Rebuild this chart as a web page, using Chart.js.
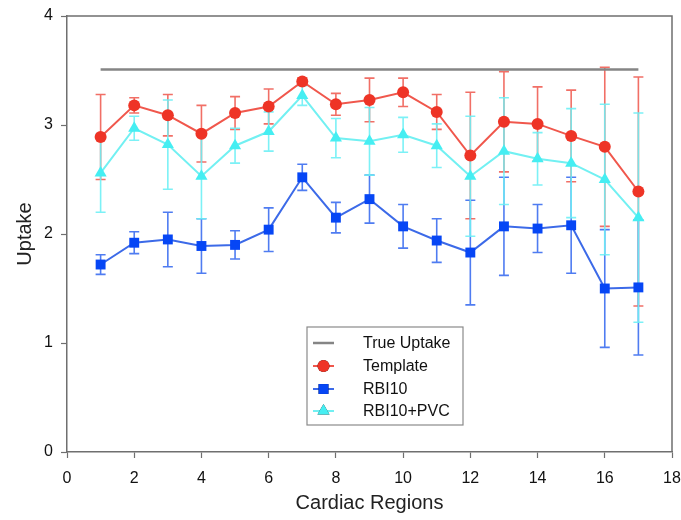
<!DOCTYPE html>
<html>
<head>
<meta charset="utf-8">
<script src="https://cdn.jsdelivr.net/npm/chart.js@4.4.1/dist/chart.umd.min.js"></script>
<style>
  html, body { margin: 0; padding: 0; background: #fff; }
  #wrap { width: 681px; height: 520px; }
</style>
</head>
<body>
<div id="wrap"><canvas id="chart"></canvas></div>
<script>
const regions = [1, 2, 3, 4, 5, 6, 7, 8, 9, 10, 11, 12, 13, 14, 15, 16, 17];
const trueUptake = 3.51;
const template = [2.89, 3.18, 3.09, 2.92, 3.11, 3.17, 3.40, 3.19, 3.23, 3.30, 3.12, 2.72, 3.03, 3.01, 2.90, 2.80, 2.39];
const templateErr = [0.39, 0.07, 0.19, 0.26, 0.15, 0.16, 0.03, 0.10, 0.20, 0.13, 0.16, 0.58, 0.46, 0.34, 0.42, 0.73, 1.05];
const rbi10 = [1.72, 1.92, 1.95, 1.89, 1.90, 2.04, 2.52, 2.15, 2.32, 2.07, 1.94, 1.83, 2.07, 2.05, 2.08, 1.50, 1.51];
const rbi10Err = [0.09, 0.10, 0.25, 0.25, 0.13, 0.20, 0.12, 0.14, 0.22, 0.20, 0.20, 0.48, 0.45, 0.22, 0.44, 0.54, 0.62];
const rbi10Pvc = [2.56, 2.97, 2.82, 2.53, 2.81, 2.94, 3.27, 2.88, 2.85, 2.91, 2.81, 2.53, 2.76, 2.69, 2.65, 2.50, 2.15];
const rbi10PvcErr = [0.36, 0.11, 0.41, 0.39, 0.16, 0.18, 0.09, 0.18, 0.31, 0.16, 0.20, 0.55, 0.49, 0.24, 0.50, 0.69, 0.96];
const xTicks = [0, 2, 4, 6, 8, 10, 12, 14, 16, 18];
const yTicks = [0, 1, 2, 3, 4];

const FONT = "'Liberation Sans', Arial, Helvetica, sans-serif";
const AXIS = "#6f6f6f";

const pts = (vals) => regions.map((r, i) => ({ x: r, y: vals[i] }));

// vertical error bars with caps, drawn under the lines
const errorBars = {
  id: 'errorBars',
  beforeDatasetsDraw(chart) {
    const { ctx, scales: { x, y } } = chart;
    ctx.save();
    chart.data.datasets.forEach((ds) => {
      if (!ds.errors) return;
      ctx.strokeStyle = ds.errorColor;
      ctx.lineWidth = 1.6;
      ds.data.forEach((p, i) => {
        const e = ds.errors[i];
        const px = x.getPixelForValue(p.x);
        const top = y.getPixelForValue(p.y + e);
        const bot = y.getPixelForValue(p.y - e);
        ctx.beginPath();
        ctx.moveTo(px, top); ctx.lineTo(px, bot);
        ctx.moveTo(px - 5, top); ctx.lineTo(px + 5, top);
        ctx.moveTo(px - 5, bot); ctx.lineTo(px + 5, bot);
        ctx.stroke();
      });
    });
    ctx.restore();
  }
};

// closed frame + legend box inside the plot
const frameAndLegend = {
  id: 'frameAndLegend',
  afterDraw(chart) {
    const { ctx, chartArea: a } = chart;
    ctx.save();
    ctx.strokeStyle = AXIS;
    ctx.lineWidth = 1.5;
    ctx.beginPath();
    ctx.moveTo(a.left, a.top); ctx.lineTo(a.right, a.top); ctx.lineTo(a.right, a.bottom);
    ctx.stroke();

    // legend
    const lx = 307, ly = 327, lw = 156, lh = 98;
    ctx.fillStyle = '#fff';
    ctx.fillRect(lx, ly, lw, lh);
    ctx.strokeStyle = '#8a8a8a';
    ctx.lineWidth = 1.2;
    ctx.strokeRect(lx, ly, lw, lh);
    const rows = [343, 366, 389, 411];
    ctx.font = "16px " + FONT;
    ctx.textBaseline = 'middle';
    chart.data.datasets.forEach((ds, i) => {
      const yy = rows[i];
      ctx.strokeStyle = ds.borderColor;
      ctx.lineWidth = ds.borderWidth;
      ctx.beginPath(); ctx.moveTo(313, yy); ctx.lineTo(334, yy); ctx.stroke();
      if (ds.pointRadius > 0) {
        Chart.helpers.drawPoint(ctx, {
          pointStyle: ds.pointStyle, radius: ds.pointRadius, rotation: 0, borderWidth: 0
        }, 323.5, yy);
        ctx.fillStyle = ds.pointBackgroundColor;
        ctx.fill();
      }
      ctx.fillStyle = '#111';
      ctx.fillText(ds.label, 363, yy + 1);
    });
    ctx.restore();
  }
};

new Chart(document.getElementById('chart'), {
  type: 'line',
  data: {
    datasets: [
      {
        label: 'True Uptake',
        data: [{ x: regions[0], y: trueUptake }, { x: regions[regions.length - 1], y: trueUptake }],
        borderColor: '#858585',
        borderWidth: 2.5,
        pointRadius: 0
      },
      {
        label: 'Template',
        data: pts(template),
        errors: templateErr,
        errorColor: 'rgba(240,95,85,0.9)',
        borderColor: '#f0574c',
        borderWidth: 2,
        pointStyle: 'circle',
        pointRadius: 6,
        pointBackgroundColor: '#ee3426',
        pointBorderWidth: 0
      },
      {
        label: 'RBI10',
        data: pts(rbi10),
        errors: rbi10Err,
        errorColor: 'rgba(60,110,240,0.9)',
        borderColor: '#3c6ae8',
        borderWidth: 2,
        pointStyle: 'rect',
        pointRadius: 7,
        pointBackgroundColor: '#0646f5',
        pointBorderWidth: 0
      },
      {
        label: 'RBI10+PVC',
        data: pts(rbi10Pvc),
        errors: rbi10PvcErr,
        errorColor: 'rgba(110,240,245,0.9)',
        borderColor: '#72f0f2',
        borderWidth: 2,
        pointStyle: 'triangle',
        pointRadius: 7,
        pointBackgroundColor: '#45eef2',
        pointBorderWidth: 0
      }
    ]
  },
  options: {
    responsive: true,
    maintainAspectRatio: false,
    animation: false,
    layout: { padding: { top: 16, right: 0, left: 0, bottom: 0 } },
    plugins: {
      legend: { display: false },
      tooltip: { enabled: false }
    },
    elements: { line: { tension: 0 } },
    scales: {
      x: {
        type: 'linear',
        min: 0,
        max: 18,
        afterBuildTicks: (s) => { s.ticks = xTicks.map(v => ({ value: v })); },
        afterFit: (s) => { s.height = 68; s.paddingRight = 9; s.paddingLeft = 0; },
        border: { color: AXIS, width: 1.5 },
        grid: { drawOnChartArea: false, tickLength: 6, tickColor: AXIS, tickWidth: 1.2 },
        ticks: { color: '#111', font: { family: FONT, size: 16 }, padding: 11 },
        title: {
          display: true,
          text: 'Cardiac Regions',
          color: '#222',
          font: { family: FONT, size: 20 },
          padding: { top: 0, bottom: 5 }
        }
      },
      y: {
        min: 0,
        max: 4,
        afterBuildTicks: (s) => { s.ticks = yTicks.map(v => ({ value: v })); },
        afterFit: (s) => { s.width = 67; s.paddingTop = 0; s.paddingBottom = 0; },
        border: { color: AXIS, width: 1.5 },
        grid: { drawOnChartArea: false, tickLength: 6, tickColor: AXIS, tickWidth: 1.2 },
        ticks: { color: '#111', font: { family: FONT, size: 16 }, padding: 8 },
        title: {
          display: true,
          text: 'Uptake',
          color: '#222',
          font: { family: FONT, size: 20 },
          padding: { top: 13, bottom: 0 }
        }
      }
    }
  },
  plugins: [errorBars, frameAndLegend]
});
</script>
</body>
</html>
